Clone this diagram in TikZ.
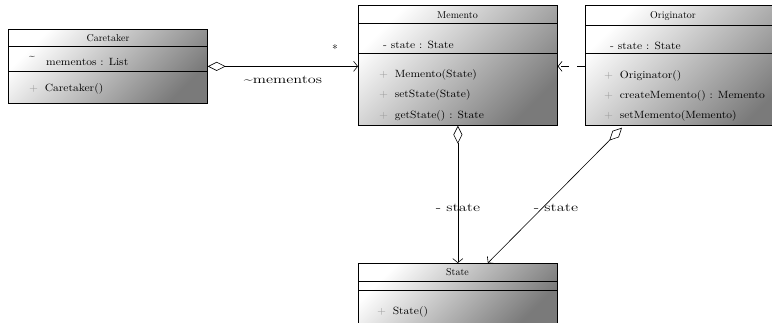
\documentclass[tikz,border=0pt]{standalone}
\usetikzlibrary{arrows.meta}
\newcommand{\pl}{{\color{black!40}+}\hspace{6pt}}
\newcommand{\bt}[1]{\scalebox{1.1}[1]{#1}}
\newcommand{\lt}[1]{\scalebox{1.35}[1]{#1}}
\tikzset{
  umlbox/.style={draw=black, line width=0.7pt, anchor=north west, inner sep=0pt,
    top color=white, bottom color=black!52, shading angle=45},
  divline/.style={draw=black, line width=0.7pt},
  boxtxt/.style={anchor=base west, inner sep=0pt, font=\fontsize{10.5}{12}\selectfont},
  titletxt/.style={anchor=base, inner sep=0pt, font=\fontsize{10}{12}\selectfont},
  lbl/.style={inner sep=0pt, font=\fontsize{12}{14}\selectfont},
  conn/.style={line width=0.6pt},
  agg/.style={conn, {Diamond[open,length=18pt,width=9pt]}-{Straight Barb[length=4pt,width=10pt]}},
  dep/.style={conn, -{Straight Barb[length=4pt,width=10pt]}, dash pattern=on 8pt off 8pt}
}
\begin{document}
\begin{tikzpicture}[x=1pt,y=-1pt]
\useasboundingbox (0,0) rectangle (772,322);
\clip (0,0) rectangle (772,322);
% Caretaker
\node[umlbox, minimum width=199pt, minimum height=74pt] (caretaker) at (8,29) {};
\draw[divline] (caretaker.west |- 0,46) -- (caretaker.east |- 0,46);
\draw[divline] (caretaker.west |- 0,71) -- (caretaker.east |- 0,71);
\node[titletxt] (ct) at (108,41) {Caretaker};
\node[boxtxt] (cta) at (29,59) {\textasciitilde};
\node[boxtxt] (ctb) at (46,65.5) {\bt{mementos : List}};
\node[boxtxt] (ctm) at (29,91.5) {\bt{\pl Caretaker()}};
% Memento
\node[umlbox, minimum width=199pt, minimum height=120pt] (memento) at (358,5) {};
\draw[divline] (memento.west |- 0,23) -- (memento.east |- 0,23);
\draw[divline] (memento.west |- 0,53) -- (memento.east |- 0,53);
\node[titletxt] (mt) at (457.5,18.5) {Memento};
\node[boxtxt] (ma) at (383,48.5) {\bt{- state : State}};
\node[boxtxt] (m1) at (379,77.5) {\bt{\pl Memento(State)}};
\node[boxtxt] (m2) at (379,97.5) {\bt{\pl setState(State)}};
\node[boxtxt] (m3) at (379,118.5) {\bt{\pl getState() : State}};
% Originator
\node[umlbox, minimum width=205pt, minimum height=120pt] (originator) at (585,5) {};
\draw[divline] (originator.west |- 0,25) -- (originator.east |- 0,25);
\draw[divline] (originator.west |- 0,53) -- (originator.east |- 0,53);
\node[titletxt] (ot) at (673,18.5) {Originator};
\node[boxtxt] (oa) at (610,49.5) {\bt{- state : State}};
\node[boxtxt] (o1) at (604,78.5) {\bt{\pl Originator()}};
\node[boxtxt] (o2) at (604,98.5) {\bt{\pl createMemento() : Memento}};
\node[boxtxt] (o3) at (604,118.5) {\bt{\pl setMemento(Memento)}};
% State
\node[umlbox, minimum width=199pt, minimum height=60pt] (state) at (358,263) {};
\draw[divline] (state.west |- 0,281) -- (state.east |- 0,281);
\draw[divline] (state.west |- 0,290) -- (state.east |- 0,290);
\node[titletxt] (st) at (457.5,275.5) {State};
\node[boxtxt] (s1) at (377,314.5) {\bt{\pl State()}};
% connectors
\draw[agg] (caretaker.east) -- (memento.west |- caretaker.east);
\node[lbl] (star) at (335,49) {*};
\node[lbl] (lm) at (283,80) {\lt{\textasciitilde mementos}};
\draw[dep] (originator.west |- caretaker.east) -- (memento.east |- caretaker.east);
\draw[agg] (memento.south) -- (state.north);
\node[lbl] (l1) at (458,208) {\lt{- state}};
\coordinate (odia) at ([xshift=37pt,yshift=-2pt]originator.south west);
\draw[agg] (odia) -- ([xshift=30pt]state.north);
\node[lbl] (l2) at (556,208) {\lt{- state}};
\end{tikzpicture}
\end{document}
